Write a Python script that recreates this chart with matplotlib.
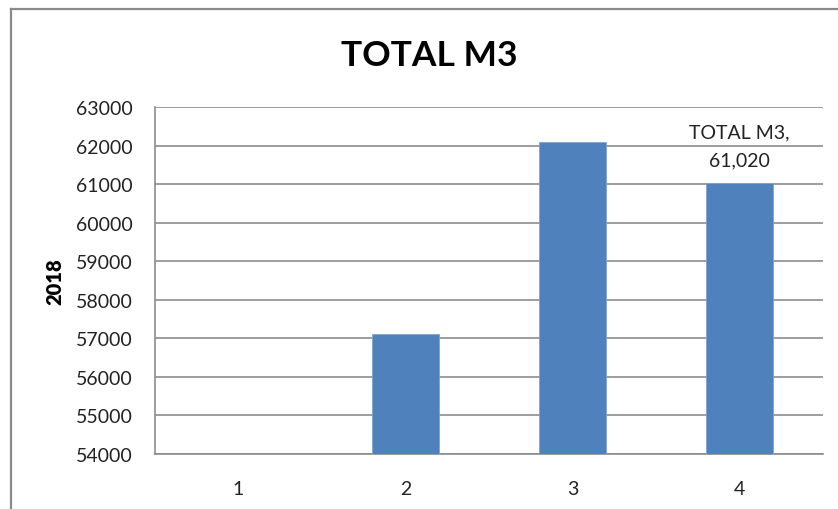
import matplotlib.pyplot as plt
from matplotlib.lines import Line2D

# values
categories = [1, 2, 3, 4]
total_m3 = [53000, 57120, 62090, 61020]
y_ticks = [54000, 55000, 56000, 57000, 58000, 59000, 60000, 61000, 62000, 63000]

plt.rcParams["font.family"] = ["Lato", "DejaVu Sans"]

fig = plt.figure(figsize=(8.38, 5.10), dpi=100)
ax = fig.add_axes([155 / 838, 1 - 455 / 510, (823 - 155) / 838, (455 - 108) / 510])

# bars (first one is below the axis minimum, so it is not visible)
ax.bar(categories, total_m3, width=0.4, color="#4F81BD", edgecolor="#7FA3D0", linewidth=0.6, zorder=3)

ax.set_xlim(0.5, 4.5)
ax.set_ylim(54000, 63000)
ax.set_yticks(y_ticks)
ax.set_yticklabels([str(v) for v in y_ticks])
ax.set_xticks(categories)
ax.set_xticklabels([str(c) for c in categories])
ax.tick_params(axis="both", length=0, labelsize=14, colors="#222222")
ax.tick_params(axis="y", pad=16)
ax.tick_params(axis="x", pad=19)

ax.grid(axis="y", color="#8C8C8C", linewidth=1.2, zorder=0)
for side in ["top", "right"]:
    ax.spines[side].set_visible(False)
ax.spines["left"].set_color("#8C8C8C")
ax.spines["bottom"].set_color("#8C8C8C")
ax.spines["left"].set_linewidth(1.2)
ax.spines["bottom"].set_linewidth(1.2)

# data label on last bar
ax.annotate("TOTAL M3,\n61,020", xy=(categories[3], total_m3[3]), xytext=(0, 11),
            textcoords="offset points", ha="center", va="bottom", fontsize=14,
            color="#222222", linespacing=1.75)

fig.text(429 / 838, 1 - 56 / 510, "TOTAL M3", ha="center", va="center",
         fontsize=25.5, fontweight="bold", color="black")
fig.text(55 / 838, 1 - 282 / 510, "2018", ha="center", va="center", rotation=90,
         fontsize=14.5, fontweight="heavy", color="black")

# chart area border (only left and top visible in the crop)
fig.add_artist(Line2D([10.5 / 838, 10.5 / 838], [0, 1 - 10 / 510], transform=fig.transFigure,
                      color="#8A8A8A", linewidth=1.6))
fig.add_artist(Line2D([10.5 / 838, 1], [1 - 10 / 510, 1 - 10 / 510], transform=fig.transFigure,
                      color="#8A8A8A", linewidth=1.6))

fig.savefig("out.png", dpi=100)
